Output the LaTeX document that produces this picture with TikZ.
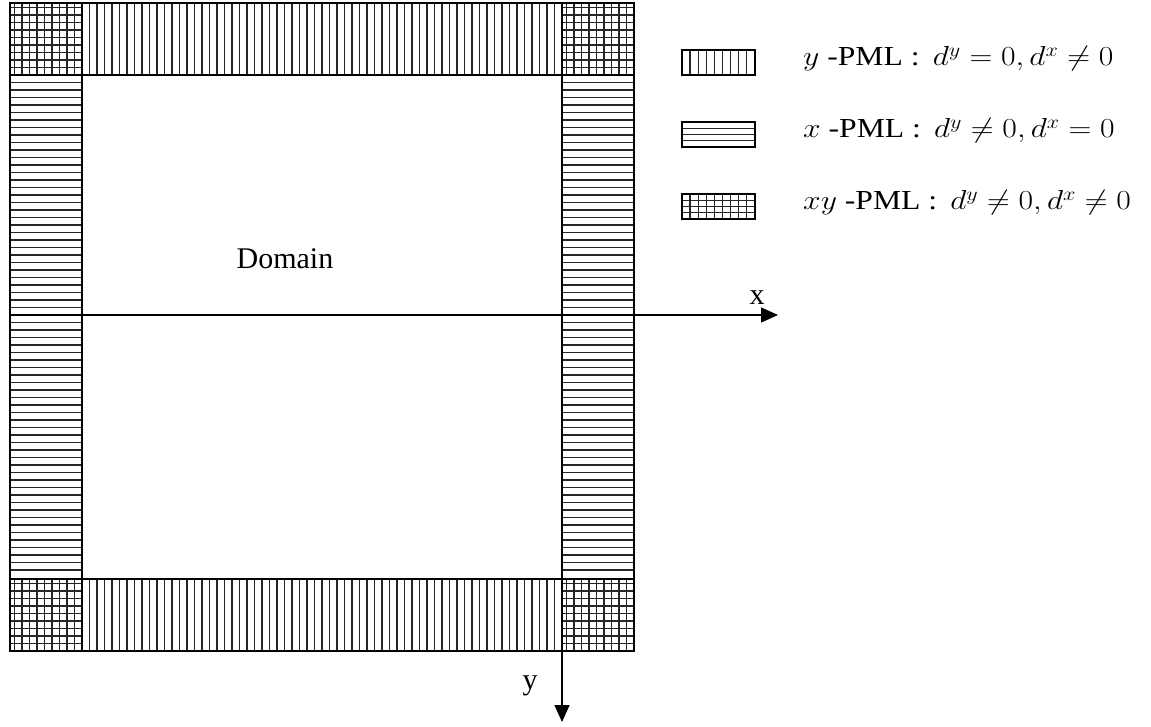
\documentclass[tikz,border=0pt]{standalone}
\usepackage{fix-cm}
\usepackage{fontspec}
\setmainfont{Liberation Serif}
\usetikzlibrary{arrows.meta}
\begin{document}
\begin{tikzpicture}[x=1pt,y=-1pt,
  hatch/.style={line width=1.3pt,black!85},
  frame/.style={line width=1.8pt,black},
  lbox/.style={line width=1.5pt,black},
  axis/.style={line width=1.3pt,black,-{Triangle[length=17pt,width=15pt]}},
  big/.style={font=\fontsize{30}{36}\selectfont},
  leg/.style={font=\fontsize{27.5}{33}\selectfont,anchor=base west,inner sep=0pt}]
\useasboundingbox (0,0) rectangle (1151,727);
% strips hatching
\foreach \x in {89.5,97,...,555} {
  \draw[hatch] (\x,3) -- (\x,75);
  \draw[hatch] (\x,579) -- (\x,651);
}
\foreach \y in {82.5,90,...,572} {
  \draw[hatch] (10,\y) -- (82,\y);
  \draw[hatch] (562,\y) -- (634,\y);
}
% corners grid
\foreach \ox/\oy in {10/3,562/3,10/579,562/579} {
  \foreach \k in {1,...,9} {
    \draw[hatch] (\ox+72-7.5*\k,\oy) -- (\ox+72-7.5*\k,\oy+72);
    \draw[hatch] (\ox,\oy+72-7.5*\k) -- (\ox+72,\oy+72-7.5*\k);
  }
}
% frame
\draw[frame] (10,3) rectangle (634,651);
\draw[frame] (82,3) -- (82,651);
\draw[frame] (562,3) -- (562,651);
\draw[frame] (10,75) -- (634,75);
\draw[frame] (10,579) -- (634,579);
% axes
\coordinate (xs) at (10,315);
\coordinate (xe) at (778,315);
\coordinate (ys) at (562,315);
\coordinate (ye) at (562,722);
\draw[axis] (xs) -- (xe);
\draw[axis] (ys) -- (ye);
\node[big] (dom) at (285,259) {Domain};
\node[big] (xl) at (757,298) {x};
\node[big] (yl) at (530,686) {y};
% legend boxes
\foreach \k in {1,...,8} \draw[hatch] (682+8.1*\k,50) -- (682+8.1*\k,75);
\draw[lbox] (682,50) rectangle (755,75);
\foreach \y in {128.5,134.5,140.5} \draw[hatch] (682,\y) -- (755,\y);
\draw[lbox] (682,122) rectangle (755,147);
\foreach \k in {1,...,8} \draw[hatch] (682+8.1*\k,194) -- (682+8.1*\k,219);
\foreach \y in {200.5,206.5,212.5} \draw[hatch] (682,\y) -- (755,\y);
\draw[lbox] (682,194) rectangle (755,219);
% legend texts
\node[leg] (l1) at (803,66) {\scalebox{1.15}[1]{$y$ -PML : \,$d^{y}=0,d^{x}\neq 0$}};
\node[leg] (l2) at (803,138) {\scalebox{1.15}[1]{$x$ -PML : \,$d^{y}\neq 0,d^{x}=0$}};
\node[leg] (l3) at (803,210) {\scalebox{1.15}[1]{$xy$ -PML : \,$d^{y}\neq 0,d^{x}\neq 0$}};
\end{tikzpicture}
\end{document}
